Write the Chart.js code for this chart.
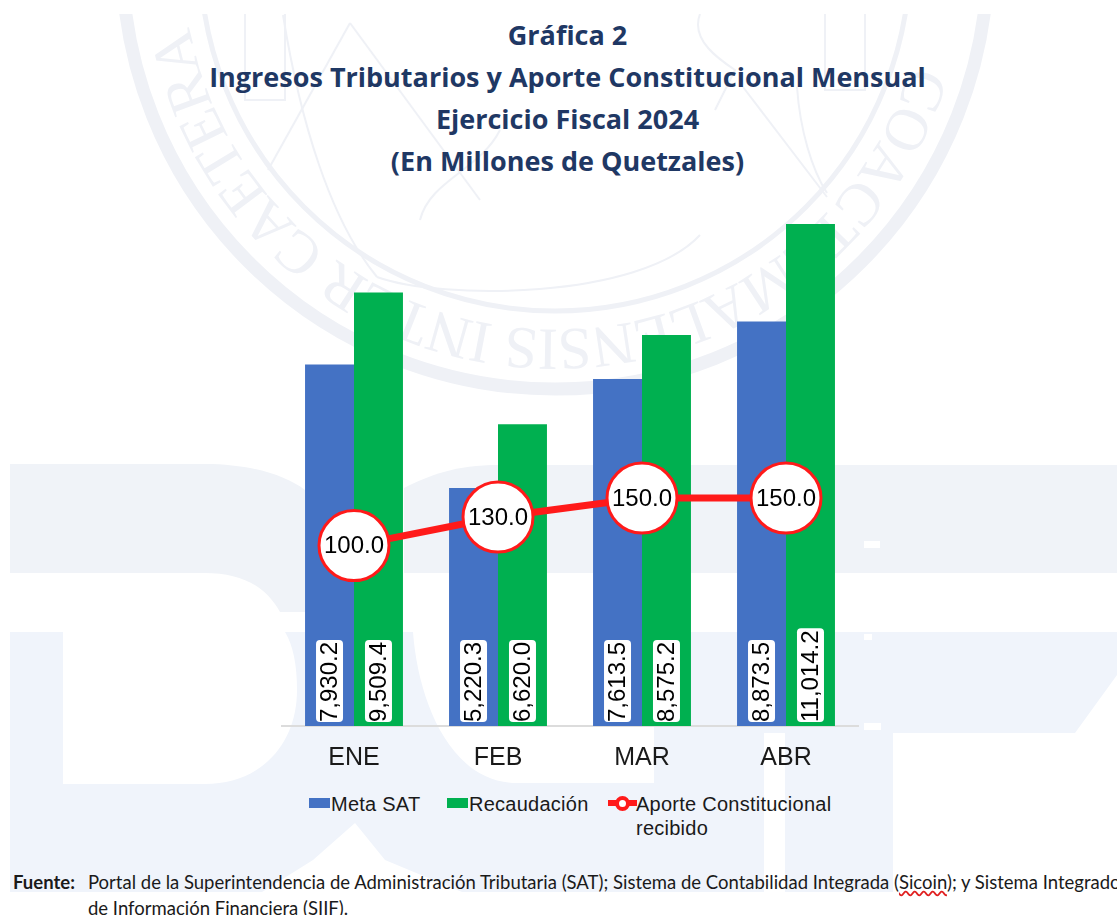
<!DOCTYPE html>
<html lang="es">
<head>
<meta charset="utf-8">
<title>Gráfica 2</title>
<script src="https://cdn.jsdelivr.net/npm/chart.js@4/dist/chart.umd.min.js"></script>
<style>
  html, body { margin: 0; padding: 0; width: 1117px; height: 915px; overflow: hidden; background: #fff; }
  #fondo { position: absolute; left: 0; top: 0; }
  #grafica { position: absolute; left: 260px; top: 170px; }
  .titulo { position: absolute; left: 0; width: 1135px; text-align: center; font: bold 27px "Open Sans", sans-serif; color: #1f3864; line-height: 42px; top: 14px; }
  .fuente { position: absolute; white-space: nowrap; font: 18.5px Lato, sans-serif; color: #1a1a1a; }
  .fuente b { font-weight: bold; }
  .sicoin { text-decoration: underline wavy #e02020; }
  .ley { position: absolute; top: 792px; font: 20px/24px "Liberation Sans", sans-serif; letter-spacing: .25px; color: #1a1a1a; white-space: pre-line; }
  .swatch { position: absolute; }
</style>
</head>
<body>
<!-- marca de agua del fondo -->
<svg id="fondo" width="1117" height="915" xmlns="http://www.w3.org/2000/svg" aria-hidden="true">
  <defs>
    <clipPath id="recorte"><rect x="0" y="14" width="1117" height="901"/></clipPath>
    <path id="arco" d="M 911 65 A 372 372 0 0 1 183 -31"/>
  </defs>
  <g fill="#f0f3f8">
    <path d="M10 464 H205 C250 464 285 475 305 490 L350 540 V612 H280 C265 585 240 573 205 573 H10 Z"/>
    <path d="M404 488 C430 475 455 465 499 465 H1117 V573 H404 Z"/>
  </g>
  <g fill="#f0f4fb">
    <path d="M10 632 H63 V784 H205 C260 784 297 745 297 690 C297 665 293 645 285 632 H413 C418 700 450 783 517 783 H654 V632 H1117 V675 L1075 733 H893 V892 H785 V733 H764 V892 H462 L385 860 L355 823 L313 860 L262 892 H10 Z"/>
  </g>
  <g fill="#fff">
    <rect x="864" y="541" width="16" height="7"/>
    <rect x="864" y="634" width="8" height="6"/>
    <rect x="864" y="723" width="17" height="7"/>
  </g>
  <g clip-path="url(#recorte)" fill="none" stroke="#eff1f6">
    <circle cx="555" cy="-44" r="433" stroke-width="13"/>
    <circle cx="555" cy="-44" r="355" stroke-width="5"/>
    <g stroke-width="2">
      <path d="M350 23 L268 170"/>
      <path d="M350 23 L480 200"/>
      <path d="M283 15 C300 120 330 220 377 277"/>
      <path d="M743 87 L827 197"/>
      <path d="M797 87 C800 130 812 170 827 193"/>
      <path d="M377 277 C440 300 640 300 700 235"/>
      <path d="M245 14 V100 H285 V14"/>
      <path d="M825 14 V90 H865 V14"/>
      <path d="M700 14 C690 40 720 60 735 70 L715 110"/>
      <path d="M420 220 C430 180 480 170 500 130"/>
    </g>
  </g>
  <text clip-path="url(#recorte)" font-family="Liberation Serif" font-size="60" fill="#eff1f6">
    <textPath href="#arco" textLength="990" lengthAdjust="spacing">COACTEMALENSIS INTER CAETERA</textPath>
  </text>
</svg>

<div class="titulo">Gráfica 2<br>Ingresos Tributarios y Aporte Constitucional Mensual<br>Ejercicio Fiscal 2024<br>(En Millones de Quetzales)</div>

<canvas id="grafica" width="620" height="620"></canvas>
<div id="leyenda"></div>

<div class="fuente" style="left:13px; top:871px;"><b>Fuente:</b></div>
<div class="fuente" style="left:88px; top:871px;">Portal de la Superintendencia de Administración Tributaria (SAT); Sistema de Contabilidad Integrada (<span class="sicoin">Sicoin</span>); y Sistema Integrado</div>
<div class="fuente" style="left:88px; top:897px;">de Información Financiera (SIIF).</div>

<script>
// datos
const meses = ["ENE", "FEB", "MAR", "ABR"];
const metaSat = [7930.2, 5220.3, 7613.5, 8873.5];
const recaudacion = [9509.4, 6620.0, 8575.2, 11014.2];
const aporte = [100.0, 130.0, 150.0, 150.0];

const azul = "#4472c4";
const verde = "#00b050";
const rojo = "#ff1a1a";

function fmt(v) {
  return v.toLocaleString("en-US", { minimumFractionDigits: 1, maximumFractionDigits: 1 });
}

// etiquetas de datos: no hay plugin de datalabels aqui
const etiquetas = {
  id: "etiquetas",
  afterDatasetsDraw(chart) {
    const ctx = chart.ctx;
    [0, 1].forEach(function (d) {
      chart.getDatasetMeta(d).data.forEach(function (bar, i) {
        const txt = fmt(chart.data.datasets[d].data[i]);
        ctx.save();
        ctx.translate(bar.x, bar.base - 4);
        ctx.rotate(-Math.PI / 2);
        ctx.font = "24px 'Liberation Sans'";
        const w = ctx.measureText(txt).width;
        ctx.fillStyle = "#fff";
        ctx.beginPath();
        ctx.roundRect(0, -13.5, w + 2, 27, 4);
        ctx.fill();
        ctx.fillStyle = "#000";
        ctx.textAlign = "left";
        ctx.textBaseline = "middle";
        ctx.fillText(txt, 0, 1);
        ctx.restore();
      });
    });
    chart.getDatasetMeta(2).data.forEach(function (pt, i) {
      ctx.save();
      ctx.font = "24px 'Liberation Sans'";
      ctx.fillStyle = "#000";
      ctx.textAlign = "center";
      ctx.textBaseline = "middle";
      ctx.fillText(fmt(aporte[i]), pt.x, pt.y + 1);
      ctx.restore();
    });
  }
};

const grafica = new Chart(document.getElementById("grafica"), {
  type: "bar",
  data: {
    labels: meses,
    datasets: [
      { label: "Meta SAT", data: metaSat, backgroundColor: azul, order: 2, yAxisID: "y" },
      { label: "Recaudación", data: recaudacion, backgroundColor: verde, order: 2, yAxisID: "y" },
      {
        type: "line",
        label: "Aporte Constitucional\nrecibido",
        data: aporte,
        yAxisID: "y1",
        order: 1,
        borderColor: rojo,
        borderWidth: 7,
        pointRadius: 35,
        pointBorderWidth: 3,
        pointBackgroundColor: "#fff",
        pointBorderColor: rojo,
        tension: 0
      }
    ]
  },
  options: {
    responsive: false,
    animation: false,
    layout: { autoPadding: false, padding: { left: 22, right: 22, top: 9, bottom: 8 } },
    datasets: { bar: { barPercentage: 1, categoryPercentage: 0.68 } },
    scales: {
      x: {
        grid: { display: false },
        border: { color: "#dcdcdc", width: 2 },
        ticks: { color: "#1a1a1a", font: { family: "Liberation Sans", size: 25 }, padding: 9, maxRotation: 0, autoSkip: false }
      },
      y: { display: false, min: 0, max: 12000 },
      y1: { display: false, min: -90, max: 486 }
    },
    plugins: {
      title: { display: false },
      tooltip: { enabled: false },
      legend: { display: false }
    }
  },
  plugins: [etiquetas]
});

// leyenda en html para poder partir el texto largo en dos lineas
const posLeyenda = [331, 469, 636];
const leyenda = document.getElementById("leyenda");
grafica.data.datasets.forEach(function (ds, i) {
  const t = document.createElement("div");
  t.className = "ley";
  t.style.left = posLeyenda[i] + "px";
  t.textContent = ds.label;
  leyenda.appendChild(t);
  const s = document.createElement("div");
  s.className = "swatch";
  if (ds.type === "line") {
    s.style.cssText = "left:608px;top:800px;width:29px;height:6px;background:" + ds.borderColor;
    const c = document.createElement("div");
    c.className = "swatch";
    c.style.cssText = "left:615px;top:796px;width:7px;height:7px;border:4px solid " + ds.borderColor + ";border-radius:50%;background:#fff";
    leyenda.appendChild(s);
    leyenda.appendChild(c);
  } else {
    s.style.cssText = "left:" + (posLeyenda[i] - 22) + "px;top:798px;width:21px;height:10px;background:" + ds.backgroundColor;
    leyenda.appendChild(s);
  }
});
</script>
</body>
</html>
